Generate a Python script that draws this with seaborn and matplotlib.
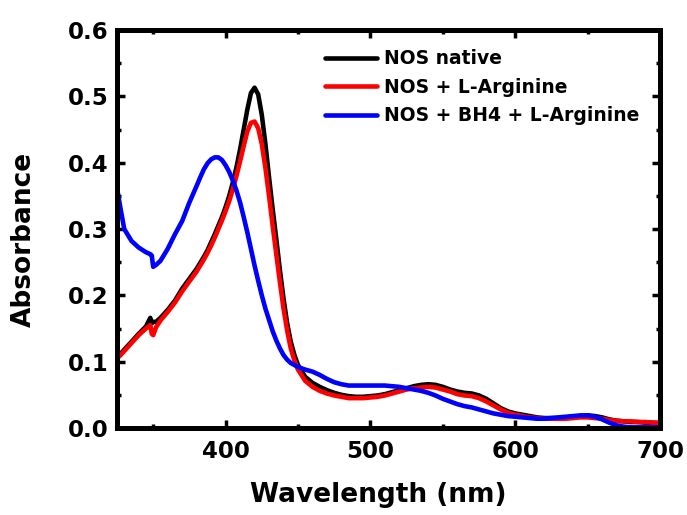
import numpy as np
import pandas as pd
import matplotlib
matplotlib.use("Agg")
import matplotlib.pyplot as plt
import seaborn as sns

wavelength = [325, 327.5, 330, 335, 340, 345, 348, 349, 350, 352, 355,
              360, 365, 370, 375,
              380, 382.5, 385, 387.5, 390, 392.5, 395, 397.5, 400, 402.5,
              405, 407.5, 410, 412.5, 415, 417.5, 420, 422.5, 425, 427.5,
              430, 432.5, 435, 437.5, 440, 442.5, 445, 447.5, 450,
              455, 460, 465, 470, 475, 480, 485, 490, 495, 500, 505,
              510, 515, 520, 525, 530, 535, 540, 545, 550, 555,
              560, 565, 570, 575, 580, 585, 590, 595, 600, 605,
              610, 615, 620, 625, 630, 635, 640, 645, 650, 655,
              660, 665, 670, 675, 680, 685, 690, 695, 700]

nos_native = [0.107, 0.112, 0.118, 0.130, 0.142, 0.153, 0.166, 0.158, 0.160, 0.160, 0.166,
              0.178, 0.192, 0.210, 0.225,
              0.240, 0.249, 0.258, 0.268, 0.280, 0.292, 0.305, 0.318, 0.333, 0.350,
              0.370, 0.393, 0.420, 0.450, 0.480, 0.505, 0.513, 0.503, 0.472, 0.428,
              0.378, 0.330, 0.285, 0.238, 0.195, 0.158, 0.130, 0.110, 0.095,
              0.077, 0.068, 0.062, 0.057, 0.053, 0.050, 0.048, 0.047, 0.047, 0.048, 0.049,
              0.051, 0.054, 0.057, 0.060, 0.063, 0.065, 0.066, 0.065, 0.062, 0.058,
              0.055, 0.053, 0.052, 0.049, 0.044, 0.037, 0.030, 0.025, 0.022, 0.020,
              0.018, 0.016, 0.015, 0.015, 0.015, 0.016, 0.017, 0.018, 0.019, 0.018,
              0.016, 0.013, 0.011, 0.010, 0.009, 0.009, 0.008, 0.008, 0.007]

nos_larg = [0.105, 0.110, 0.116, 0.128, 0.140, 0.150, 0.155, 0.142, 0.140, 0.152, 0.162,
            0.175, 0.189, 0.206, 0.221,
            0.236, 0.245, 0.254, 0.264, 0.275, 0.287, 0.300, 0.313, 0.327, 0.342,
            0.360, 0.380, 0.402, 0.425, 0.447, 0.460, 0.462, 0.452, 0.428, 0.392,
            0.350, 0.305, 0.262, 0.220, 0.180, 0.147, 0.120, 0.102, 0.088,
            0.071, 0.062, 0.056, 0.052, 0.049, 0.047, 0.045, 0.045, 0.045, 0.046, 0.047,
            0.049, 0.052, 0.055, 0.058, 0.060, 0.061, 0.062, 0.061, 0.058, 0.055,
            0.051, 0.049, 0.048, 0.045, 0.040, 0.034, 0.028, 0.023, 0.020, 0.018,
            0.016, 0.015, 0.014, 0.014, 0.014, 0.014, 0.015, 0.016, 0.016, 0.015,
            0.014, 0.012, 0.011, 0.010, 0.010, 0.009, 0.009, 0.008, 0.008]

nos_bh4_larg = [0.362, 0.330, 0.300, 0.282, 0.272, 0.265, 0.262, 0.260, 0.243, 0.246, 0.252,
                0.270, 0.292, 0.312, 0.340,
                0.365, 0.378, 0.390, 0.399, 0.405, 0.408, 0.408, 0.404, 0.396, 0.386,
                0.373, 0.358, 0.340, 0.318, 0.295, 0.270, 0.245, 0.222, 0.200, 0.180,
                0.163, 0.146, 0.132, 0.120, 0.110, 0.103, 0.098, 0.095, 0.092,
                0.088, 0.085, 0.080, 0.074, 0.069, 0.066, 0.064, 0.064, 0.064, 0.064, 0.064,
                0.064, 0.063, 0.062, 0.060, 0.058, 0.056, 0.053, 0.049, 0.044, 0.040,
                0.036, 0.033, 0.031, 0.028, 0.025, 0.022, 0.020, 0.018, 0.017, 0.016,
                0.015, 0.014, 0.014, 0.015, 0.016, 0.017, 0.018, 0.019, 0.019, 0.017,
                0.013, 0.008, 0.004, 0.002, 0.001, 0.001, 0.001, 0.001, 0.001]

series_names = ["NOS native", "NOS + L-Arginine", "NOS + BH4 + L-Arginine"]
series_colors = ["#000000", "#ff0000", "#0000ff"]

x_ticks = [400, 500, 600, 700]
y_ticks = [0.0, 0.1, 0.2, 0.3, 0.4, 0.5, 0.6]

df = pd.concat([
    pd.DataFrame({"Wavelength": wavelength, "Absorbance": vals, "Sample": name})
    for name, vals in zip(series_names, [nos_native, nos_larg, nos_bh4_larg])
], ignore_index=True)

sns.set_style("ticks")
plt.rcParams["font.family"] = ["DejaVu Sans"]
plt.rcParams["font.weight"] = "bold"
for key in ["text.color", "axes.labelcolor", "xtick.color", "ytick.color", "axes.edgecolor"]:
    plt.rcParams[key] = "black"

fig = plt.figure(figsize=(6.87, 5.15), dpi=100)
ax = fig.add_axes([117 / 687, 1 - 428 / 515, (660 - 117) / 687, (428 - 30) / 515])

sns.lineplot(data=df, x="Wavelength", y="Absorbance", hue="Sample",
             hue_order=series_names, palette=series_colors, linewidth=3.3,
             ax=ax, sort=False, estimator=None)

ax.set_xlim(325, 700)
ax.set_ylim(0, 0.6)
ax.set_xticks(x_ticks)
ax.set_yticks(y_ticks)
ax.set_xticks([350, 450, 550, 650], minor=True)
ax.set_yticks([0.05, 0.15, 0.25, 0.35, 0.45, 0.55], minor=True)
ax.set_xticklabels([str(v) for v in x_ticks], fontsize=16.5, fontweight="bold")
ax.set_yticklabels([f"{v:.1f}" for v in y_ticks], fontsize=16.5, fontweight="bold")
ax.tick_params(which="both", direction="in", top=True, right=True, width=2.5, color="black")
ax.tick_params(which="major", length=6)
ax.tick_params(axis="x", which="major", pad=9)
ax.tick_params(axis="y", which="major", pad=6)
ax.tick_params(which="minor", length=3)
for s in ax.spines.values():
    s.set_linewidth(3.6)
    s.set_color("black")

ax.set_xlabel("Wavelength (nm)", fontsize=19, fontweight="bold")
ax.set_ylabel("Absorbance", fontsize=19, fontweight="bold")
ax.xaxis.set_label_coords(0.481, -0.135)
ax.yaxis.set_label_coords(-0.148, 0.475)

leg = ax.legend(loc="upper left", bbox_to_anchor=(0.37, 0.97), frameon=False,
                fontsize=13.5, handlelength=2.75, handletextpad=0.38,
                labelspacing=0.5, borderaxespad=0)
for t in leg.get_texts():
    t.set_fontweight("bold")
for l in leg.get_lines():
    l.set_linewidth(3.3)

fig.savefig("out.png", dpi=100)
